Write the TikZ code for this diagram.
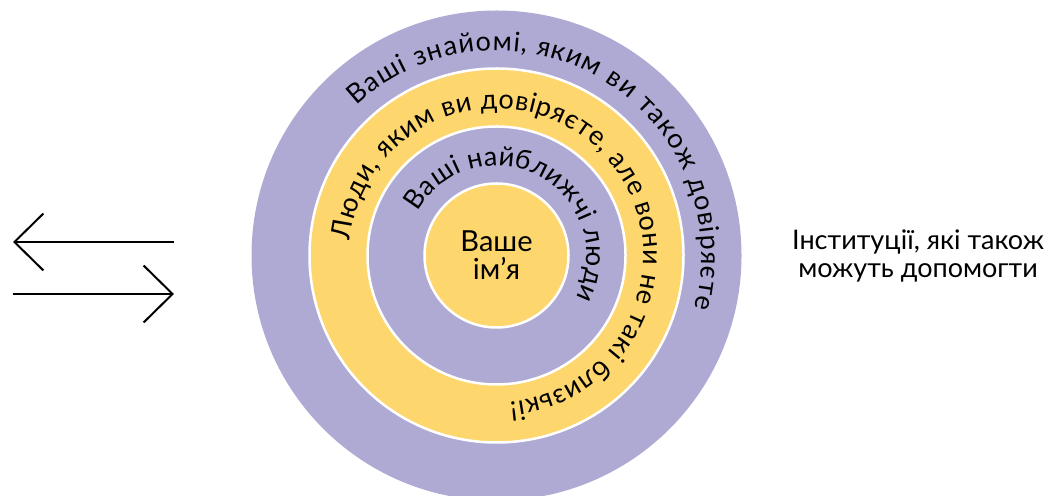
\documentclass[tikz,border=0pt]{standalone}
\usepackage{fontspec}
\setmainfont{Lato}
\usetikzlibrary{decorations.text,arrows.meta}
\definecolor{ringpurple}{HTML}{AFAAD4}
\definecolor{ringyellow}{HTML}{FED66E}
\tikzset{
  ring/.style={draw=white,line width=2.5pt},
  arrowline/.style={line width=2pt,-{Straight Barb[length=29pt,width=57pt,line width=2pt]}},
  ringtext/.style={decorate,decoration={text along path,text align=fit to path,text={#1}}},
}
\begin{document}
\begin{tikzpicture}[x=1pt,y=1pt]
\useasboundingbox (0,0) rectangle (1051,495);
\clip (0,0) rectangle (1051,495);
\coordinate (c) at (496.5,239.5);
\fill[ringpurple] (c) circle[radius=245];
\filldraw[ring,fill=ringyellow] (c) circle[radius=187];
\filldraw[ring,fill=ringpurple] (c) circle[radius=129];
\filldraw[ring,fill=ringyellow] (c) circle[radius=72];
\node[align=center,font=\fontsize{29}{28}\selectfont] (name) at (c) {Ваше\\ім’я};
% ring texts
\path[ringtext={|\fontsize{27}{28}\selectfont|Ваші знайомі, яким ви також довіряєте}]
  ([shift={(133:205)}]c) arc[start angle=133,end angle=-15,radius=205];
\path[ringtext={|\fontsize{27}{28}\selectfont|Люди, яким ви довіряєте, але вони не такі близькі!}]
  ([shift={(174:147)}]c) arc[start angle=174,end angle=-85,radius=147];
\path[ringtext={|\fontsize{27}{28}\selectfont|Ваші найближчі люди}]
  ([shift={(151:90)}]c) arc[start angle=151,end angle=-28,radius=90];
% right text
\node[align=center,font=\fontsize{27}{28}\selectfont] (inst) at (918,239) {Інституції, які також\\можуть допомогти};
% arrows
\coordinate (a1s) at (174,253);
\coordinate (a1e) at (13,253);
\coordinate (a2s) at (13,201);
\coordinate (a2e) at (174,201);
\draw[arrowline] (a1s) -- (a1e);
\draw[arrowline] (a2s) -- (a2e);
\end{tikzpicture}
\end{document}
